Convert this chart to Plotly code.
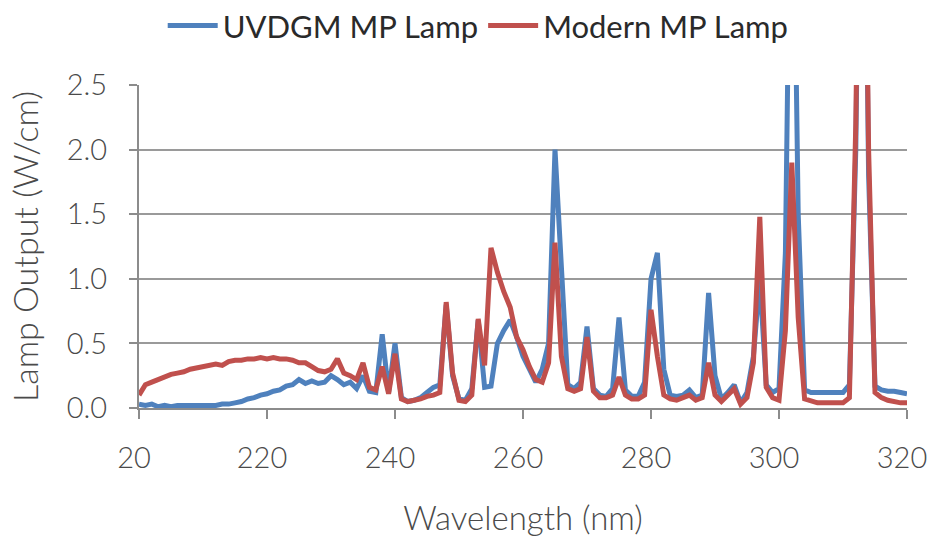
import plotly.graph_objects as go

wavelength = list(range(200, 321))

uvdgm = [
    0.03, 0.02, 0.03, 0.01, 0.02, 0.01, 0.02, 0.02, 0.02, 0.02,  # 200-209
    0.02, 0.02, 0.02, 0.03, 0.03, 0.04, 0.05, 0.07, 0.08, 0.10,  # 210-219
    0.11, 0.13, 0.14, 0.17, 0.18, 0.22, 0.19, 0.21, 0.19, 0.20,  # 220-229
    0.25, 0.22, 0.18, 0.20, 0.15, 0.25, 0.13, 0.12, 0.57, 0.12,  # 230-239
    0.50, 0.08, 0.05, 0.06, 0.08, 0.12, 0.16, 0.18, 0.80, 0.25,  # 240-249
    0.07, 0.06, 0.15, 0.68, 0.16, 0.17, 0.50, 0.60, 0.68, 0.55,  # 250-259
    0.40, 0.30, 0.20, 0.30, 0.50, 2.00, 1.10, 0.18, 0.15, 0.20,  # 260-269
    0.63, 0.15, 0.10, 0.09, 0.15, 0.70, 0.14, 0.09, 0.09, 0.20,  # 270-279
    1.00, 1.20, 0.30, 0.10, 0.09, 0.10, 0.14, 0.08, 0.10, 0.89,  # 280-289
    0.25, 0.07, 0.12, 0.18, 0.04, 0.12, 0.40, 1.00, 0.18, 0.12,  # 290-299
    0.15, 1.20, 5.00, 1.50, 0.14, 0.12, 0.12, 0.12, 0.12, 0.12,  # 300-309
    0.12, 0.18, 2.00, 6.00, 1.80, 0.17, 0.14, 0.13, 0.13, 0.12,  # 310-319
    0.11,                                                        # 320
]

modern = [
    0.10, 0.18, 0.20, 0.22, 0.25, 0.26, 0.27, 0.28, 0.30, 0.31,  # 200-209
    0.32, 0.33, 0.34, 0.33, 0.36, 0.37, 0.37, 0.38, 0.38, 0.39,  # 210-219
    0.38, 0.39, 0.38, 0.38, 0.37, 0.35, 0.35, 0.32, 0.29, 0.28,  # 220-229
    0.30, 0.38, 0.27, 0.25, 0.22, 0.35, 0.16, 0.14, 0.32, 0.11,  # 230-239
    0.42, 0.07, 0.05, 0.06, 0.07, 0.09, 0.10, 0.12, 0.82, 0.27,  # 240-249
    0.06, 0.05, 0.10, 0.69, 0.33, 1.24, 1.05, 0.90, 0.78, 0.55,  # 250-259
    0.45, 0.32, 0.22, 0.20, 0.35, 1.28, 0.40, 0.15, 0.13, 0.15,  # 260-269
    0.55, 0.13, 0.08, 0.08, 0.10, 0.24, 0.10, 0.07, 0.07, 0.10,  # 270-279
    0.76, 0.40, 0.10, 0.07, 0.06, 0.08, 0.10, 0.06, 0.08, 0.35,  # 280-289
    0.10, 0.05, 0.10, 0.15, 0.03, 0.08, 0.35, 1.48, 0.16, 0.08,  # 290-299
    0.06, 0.60, 1.90, 0.70, 0.07, 0.05, 0.04, 0.04, 0.04, 0.04,  # 300-309
    0.04, 0.08, 2.20, 6.00, 2.00, 0.12, 0.08, 0.06, 0.05, 0.04,  # 310-319
    0.04,                                                        # 320
]

x_tickvals = [200, 220, 240, 260, 280, 300, 320]
x_ticktext = ["20", "220", "240", "260", "280", "300", "320"]
y_tickvals = [0.0, 0.5, 1.0, 1.5, 2.0, 2.5]
y_ticktext = ["0.0", "0.5", "1.0", "1.5", "2.0", "2.5"]

FONT = "Lato Light, Lato, sans-serif"
TXT = "#4a4a4a"

fig = go.Figure()
fig.add_trace(go.Scatter(x=wavelength, y=uvdgm, mode="lines", name="UVDGM MP Lamp",
                         line=dict(color="#4F81BD", width=5)))
fig.add_trace(go.Scatter(x=wavelength, y=modern, mode="lines", name="Modern MP Lamp",
                         line=dict(color="#C0504D", width=5)))

fig.update_layout(
    width=934, height=540,
    margin=dict(l=139, r=27, t=85, b=132, autoexpand=False),
    paper_bgcolor="white", plot_bgcolor="white",
    font=dict(family=FONT, size=29, color=TXT),
    showlegend=True,
    legend=dict(orientation="h", xref="container", yref="container",
                x=0.512, xanchor="center", y=0.952, yanchor="middle",
                font=dict(family="Lato, sans-serif", size=31, color="#2a2a2a"),
                itemwidth=50, tracegroupgap=0, bgcolor="rgba(0,0,0,0)"),
    xaxis=dict(range=[200, 320], tickmode="array", tickvals=x_tickvals, ticktext=x_ticktext,
               showgrid=False, showline=True, linecolor="#8c8c8c", linewidth=2,
               ticks="outside", ticklen=9, tickwidth=1.5, tickcolor="#8c8c8c",
               tickfont=dict(size=29, color=TXT), zeroline=False, automargin=False,
               ticklabelstandoff=14, ticklabelshift=-5, ticklabeloverflow="allow",
               title=dict(text="Wavelength (nm)", font=dict(size=33, color=TXT), standoff=34)),
    yaxis=dict(range=[0, 2.5], tickmode="array", tickvals=y_tickvals, ticktext=y_ticktext,
               showgrid=True, gridcolor="#9a9a9a", gridwidth=1.5,
               showline=True, linecolor="#8c8c8c", linewidth=2,
               ticks="outside", ticklen=8, tickwidth=1.5, tickcolor="#8c8c8c",
               tickfont=dict(size=29, color=TXT), zeroline=False, automargin=False,
               ticklabelstandoff=16,
               title=dict(text="Lamp Output (W/cm)", font=dict(size=34, color=TXT), standoff=18)),
)

# remove the default 8px page margin so the 934x540 figure fills the window exactly
fig.write_html("out.html", config={"displayModeBar": False},
               post_script="document.body.style.margin='0';")
